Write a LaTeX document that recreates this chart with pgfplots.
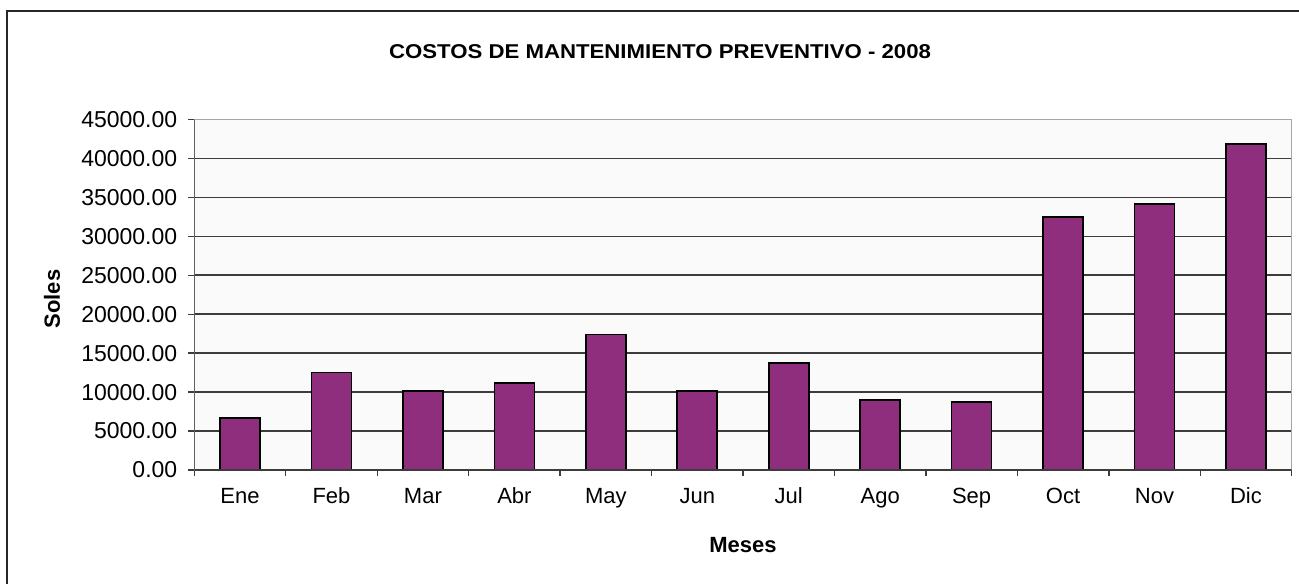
\documentclass[border=0pt]{standalone}
\usepackage{fontspec}
\setmainfont{Liberation Sans}
\usepackage{graphicx}
\usepackage{pgfplots}
\pgfplotsset{compat=1.18}
\definecolor{barpurple}{RGB}{142,46,124}
\definecolor{gridc}{RGB}{60,60,60}
\begin{document}
\begin{tikzpicture}
\path[use as bounding box] (0,0) rectangle (649.5pt,292pt);
\fill[white] (0,0) rectangle (649.5pt,292pt);
\draw[line width=1.2pt, black!85] (3.5pt,0) -- (3.5pt,286.5pt) -- (649.5pt,286.5pt);
\begin{axis}[
  at={(97.15pt,57pt)}, anchor=south west,
  scale only axis, width=548.7pt, height=175.25pt,
  xmin=-0.5, xmax=11.5, ymin=0, ymax=45000,
  axis background/.style={fill=gray!4},
  axis line style={draw=gray!70, line width=0.6pt},
  ytick={0,5000,...,45000},
  scaled y ticks=false,
  ymajorgrids, major grid style={gridc, line width=0.8pt},
  xtick={0,...,11},
  xticklabels={Ene,Feb,Mar,Abr,May,Jun,Jul,Ago,Sep,Oct,Nov,Dic},
  minor xtick={-0.5,0.5,1.5,2.5,3.5,4.5,5.5,6.5,7.5,8.5,9.5,10.5,11.5},
  tick pos=left,
  tick align=outside,
  major tick length=3pt, minor tick length=3pt,
  tick style={gridc, line width=0.7pt},
  major x tick style={draw=none},
  xticklabel style={font=\fontsize{11}{13}\selectfont, text height=8pt, text depth=2.5pt, yshift=-2pt},
  yticklabel style={font=\fontsize{11.5}{13}\selectfont, xshift=-2pt},
  /pgf/number format/.cd, fixed, fixed zerofill, precision=2, 1000 sep={}, assume math mode=true,
]
\addplot[ybar, bar width=20pt, fill=barpurple, draw=black, line width=0.8pt]
  coordinates {(0,6640) (1,12540) (2,10140) (3,11200) (4,17420) (5,10180)
               (6,13700) (7,8990) (8,8730) (9,32520) (10,34150) (11,41890)};
\draw[gridc, line width=0.9pt] (rel axis cs:0,1) -- (rel axis cs:0,0) -- (rel axis cs:1,0);
\end{axis}
\node[font=\bfseries\fontsize{10}{12}\selectfont] at (330pt,266pt) {\scalebox{1.11}[1]{COSTOS DE MANTENIMIENTO PREVENTIVO - 2008}};
\node[font=\bfseries\fontsize{11}{13}\selectfont] at (371.5pt,19.5pt) {Meses};
\node[rotate=90, font=\bfseries\fontsize{11}{13}\selectfont] at (26pt,142.5pt) {Soles};
\end{tikzpicture}
\end{document}
